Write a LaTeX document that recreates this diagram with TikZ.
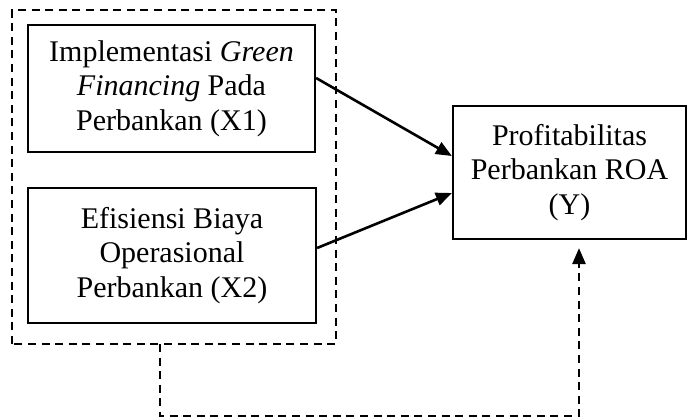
\documentclass[tikz,border=0pt]{standalone}
\usepackage{fontspec}
\setmainfont{Liberation Serif}
\usetikzlibrary{arrows.meta}

\tikzset{
  varbox/.style={draw,line width=1.1pt,align=center,inner sep=0pt,font=\fontsize{15}{17.25}\selectfont},
  grpline/.style={line width=1.3pt,dash pattern=on 4pt off 2.8pt}
}

\begin{document}
\begin{tikzpicture}[line join=miter,>={Triangle[length=8pt,width=6.5pt]},x=0.5pt,y=0.5pt]
\useasboundingbox (0,0) rectangle (687,418);
% variabel bebas
\node [varbox,minimum width=143.5pt,minimum height=63.5pt] (x1) at (171.5,329.5)
  {Implementasi \textit{Green}\\\textit{Financing} Pada\\Perbankan (X1)};
\node [varbox,minimum width=144pt,minimum height=67.5pt] (x2) at (172,162.5)
  {Efisiensi Biaya\\Operasional\\Perbankan (X2)};
% variabel terikat
\node [varbox,minimum width=116.5pt,minimum height=66.5pt] (y) at (569.5,245.5)
  {Profitabilitas\\Perbankan ROA\\(Y)};
% kotak simultan
\draw [grpline] (12,74) rectangle (336,408);
\coordinate (grp) at (160,74);
\coordinate (low) at (160,2);
\coordinate (tip) at ([xshift=4.75pt]y.south);
\draw [->,line width=1.3pt] ([yshift=5.25pt]x1.east) -- ([yshift=8.25pt]y.west);
\draw [->,line width=1.3pt] ([yshift=3.75pt]x2.east) -- ([yshift=-10.25pt]y.west);
\draw [->,grpline] (grp) -- (low) -| ([yshift=-4pt]tip);
\end{tikzpicture}
\end{document}
